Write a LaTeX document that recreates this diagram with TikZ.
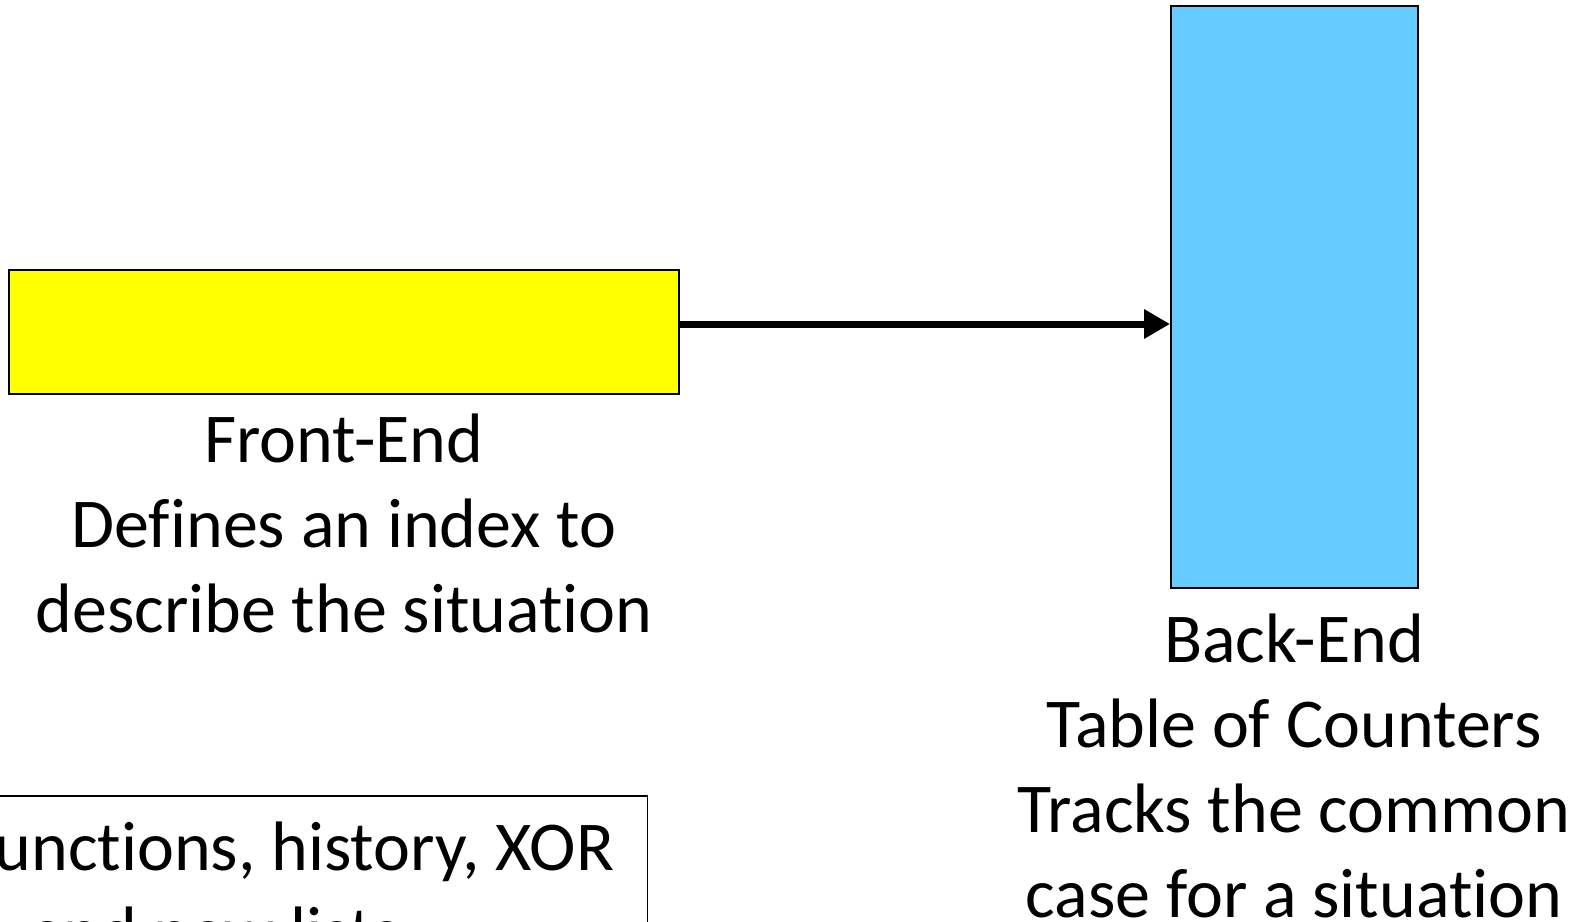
\documentclass[tikz,border=0pt]{standalone}
\usepackage{fontspec}
\setmainfont{Carlito}[Ligatures=CommonOff]
\usetikzlibrary{arrows.meta,positioning}
\definecolor{fecolor}{RGB}{255,255,0}
\definecolor{becolor}{RGB}{102,204,255}

\begin{document}
\begin{tikzpicture}[x=1pt,y=-1pt,>={Triangle[length=26pt,width=28pt]},
  block/.style={draw,line width=2pt,inner sep=0pt},
  lbl/.style={align=center,inner sep=0pt,font=\fontsize{70}{84.7}\selectfont}]
\useasboundingbox (0,0) rectangle (1594,921);
\clip (0,0) rectangle (1594,921);

\node[block,fill=fecolor,minimum width=670pt,minimum height=124pt] (front) at (344,332) {};
\node[block,fill=becolor,minimum width=247pt,minimum height=582pt] (back) at (1294.5,297) {};
\draw[->,line width=7pt] ([yshift=8pt]front.east) -- ([yshift=8pt]front.east -| back.west);

% base = baseline of the last line
\node[lbl,anchor=base] (frontlbl) at (344,632) {Front-End\\Defines an index to\\describe the situation};
\node[lbl,anchor=base] (backlbl) at (1294,917) {Back-End\\Table of Counters\\Tracks the common\\case for a situation};

\node[lbl,draw,line width=1.5pt,anchor=north east,inner xsep=33pt,inner ysep=26pt] (hashbox) at (648,795) {Hash functions, history, XOR\\and new lists};
\end{tikzpicture}
\end{document}
